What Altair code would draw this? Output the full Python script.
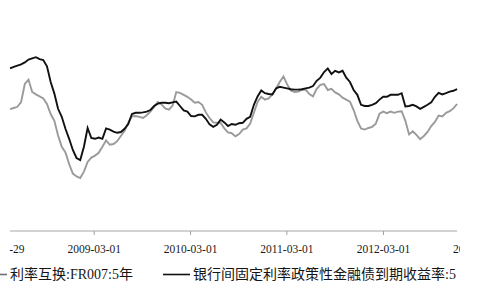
import altair as alt
import pandas as pd

start_date = "2008-04-16"
step_days = 14
legend_labels = ["利率互换:FR007:5年", "银行间固定利率政策性金融债到期收益率:5"]
series_colors = ["#9a9a9a", "#111111"]

irs_5y = [
    3.37, 3.40, 3.43, 3.55, 4.00, 4.11, 3.80, 3.74, 3.69, 3.64,
    3.50, 3.25, 3.08, 2.71, 2.43, 2.29, 2.00, 1.76, 1.69, 1.65,
    1.81, 2.05, 2.16, 2.21, 2.28, 2.43, 2.59, 2.48, 2.50, 2.57,
    2.70, 2.83, 3.03, 3.19, 3.20, 3.18, 3.15, 3.22, 3.31, 3.43,
    3.55, 3.49, 3.39, 3.36, 3.46, 3.80, 3.78, 3.73, 3.68, 3.61,
    3.53, 3.55, 3.48, 3.29, 3.15, 3.04, 3.03, 3.03, 2.89, 2.79,
    2.77, 2.69, 2.75, 2.86, 2.89, 3.01, 3.28, 3.55, 3.68, 3.61,
    3.64, 3.74, 3.89, 4.05, 4.19, 3.99, 3.84, 3.80, 3.81, 3.85,
    3.86, 3.75, 3.69, 3.88, 3.98, 4.00, 3.85, 3.88, 3.79, 3.74,
    3.66, 3.61, 3.56, 3.35, 3.08, 2.89, 2.86, 2.90, 2.93, 3.01,
    3.26, 3.31, 3.27, 3.31, 3.28, 3.31, 3.32, 3.08, 2.74, 2.82,
    2.73, 2.62, 2.70, 2.80, 2.95, 3.05, 3.21, 3.19, 3.28, 3.32,
    3.39, 3.50,
]

bond_5y = [
    4.39, 4.43, 4.46, 4.49, 4.54, 4.61, 4.64, 4.67, 4.62, 4.60,
    4.44, 4.05, 3.76, 3.38, 3.18, 2.88, 2.63, 2.35, 2.15, 2.10,
    2.43, 2.90, 2.65, 2.63, 2.66, 2.63, 2.89, 2.86, 2.81, 2.78,
    2.80, 2.88, 3.00, 3.25, 3.28, 3.28, 3.29, 3.31, 3.35, 3.45,
    3.51, 3.53, 3.53, 3.52, 3.54, 3.56, 3.45, 3.34, 3.31, 3.20,
    3.19, 3.23, 3.23, 3.13, 2.99, 2.93, 2.98, 3.11, 3.04, 2.95,
    3.00, 2.98, 3.02, 3.03, 3.13, 3.18, 3.48, 3.69, 3.84, 3.77,
    3.75, 3.74, 3.89, 3.93, 3.91, 3.89, 3.87, 3.86, 3.86, 3.87,
    3.89, 3.91, 3.95, 4.08, 4.16, 4.30, 4.39, 4.25, 4.33, 4.29,
    4.33, 4.16, 4.05, 3.85, 3.73, 3.48, 3.45, 3.45, 3.48, 3.52,
    3.61, 3.68, 3.68, 3.73, 3.73, 3.73, 3.77, 3.44, 3.45, 3.48,
    3.44, 3.38, 3.43, 3.48, 3.54, 3.68, 3.78, 3.74, 3.77, 3.81,
    3.83, 3.87,
]

tick_dates = ["2008-02-29", "2009-03-01", "2010-03-01", "2011-03-01",
              "2012-03-01", "2013-03-01"]
x_domain = ["2008-03-09", "2012-12-16"]
y_domain = [0.325, 6.1]

# ---- tables ----
n = len(irs_5y)
dates = list(pd.date_range(start_date, periods=n, freq=f"{step_days}D"))
irs_df = pd.DataFrame({"date": dates, "value": irs_5y})
bond_df = pd.DataFrame({"date": dates, "value": bond_5y})
span_df = pd.DataFrame({"start": [dates[0]], "end": [dates[-1]]})
ticks_df = pd.DataFrame({"date": [pd.Timestamp(d) for d in tick_dates]})


def to_dt(s):
    t = pd.Timestamp(s)
    return alt.DateTime(year=t.year, month=t.month, date=t.day)


x_scale = alt.Scale(domain=[to_dt(d) for d in x_domain])
y_scale = alt.Scale(domain=y_domain, zero=False, nice=False)

base_x = alt.X("date:T", scale=x_scale, axis=None)
base_y = alt.Y("value:Q", scale=y_scale, axis=None)

axis_y = 231

axis_line = alt.Chart(span_df).mark_rule(color="#a6a6a6", strokeWidth=1).encode(
    x=alt.X("start:T", scale=x_scale, axis=None),
    x2="end:T",
    y=alt.value(axis_y),
)

tick_marks = alt.Chart(ticks_df).mark_rule(color="#a0a0a0", strokeWidth=1).encode(
    x=base_x, y=alt.value(axis_y), y2=alt.value(axis_y + 4)
)

tick_labels = alt.Chart(ticks_df).mark_text(
    align="center", baseline="middle", font="Liberation Serif",
    fontSize=11.5, color="#1a1a1a",
).encode(
    x=base_x, y=alt.value(250), text=alt.Text("date:T", format="%Y-%m-%d")
)

# the reference picture is cropped at its left edge in the tick-label band
crop_mask = alt.Chart(pd.DataFrame({"k": [0]})).mark_rect(color="white").encode(
    x=alt.value(0), x2=alt.value(9.5), y=alt.value(238), y2=alt.value(262)
)

irs_line = alt.Chart(irs_df).mark_line(color=series_colors[0], strokeWidth=1.9).encode(
    x=base_x, y=base_y
)
bond_line = alt.Chart(bond_df).mark_line(color=series_colors[1], strokeWidth=1.9).encode(
    x=base_x, y=base_y
)

legend_font = "Liberation Serif, Noto Sans CJK SC"
leg_y = 274.5

leg_sym1 = alt.Chart(pd.DataFrame({"k": [0]})).mark_rule(
    color="#6e6e6e", strokeWidth=1.6
).encode(x=alt.value(-20), x2=alt.value(7), y=alt.value(leg_y))
leg_txt1 = alt.Chart(pd.DataFrame({"name": [legend_labels[0]]})).mark_text(
    align="left", baseline="middle", font=legend_font, fontSize=14, color="#151515"
).encode(x=alt.value(10), y=alt.value(leg_y), text="name:N")

leg_sym2 = alt.Chart(pd.DataFrame({"k": [0]})).mark_rule(
    color=series_colors[1], strokeWidth=1.6
).encode(x=alt.value(163), x2=alt.value(190), y=alt.value(leg_y))
leg_txt2 = alt.Chart(pd.DataFrame({"name": [legend_labels[1]]})).mark_text(
    align="left", baseline="middle", font=legend_font, fontSize=14, color="#151515"
).encode(x=alt.value(193), y=alt.value(leg_y), text="name:N")

chart = alt.layer(
    axis_line, tick_marks, tick_labels, crop_mask, irs_line, bond_line,
    leg_sym1, leg_txt1, leg_sym2, leg_txt2
).properties(
    width=460,
    height=231,
    autosize=alt.AutoSizeParams(type="none"),
    padding={"left": 0, "top": 0, "right": 0, "bottom": 58},
    background="white",
).configure_view(strokeWidth=0)

chart.save("out.html", embed_options={"renderer": "svg", "actions": False})
